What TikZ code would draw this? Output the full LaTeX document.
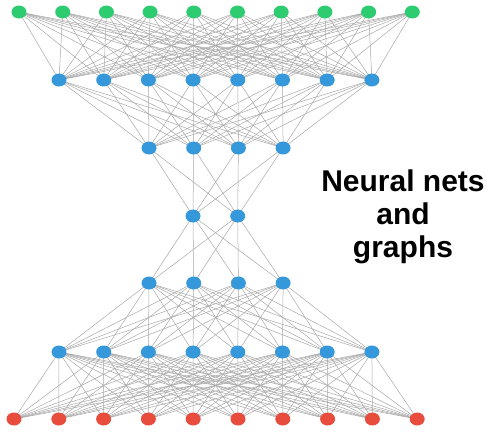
\documentclass[tikz,border=0pt]{standalone}
\usepackage{fontspec}
\setmainfont{Liberation Sans}
\usetikzlibrary{shapes.geometric}
\definecolor{cgreen}{HTML}{2ECC71}
\definecolor{cblue}{HTML}{3498DB}
\definecolor{cred}{HTML}{E74C3C}
\definecolor{cedge}{HTML}{A8A8A8}
\begin{document}
\begin{tikzpicture}[x=1pt,y=-1pt,
  neuron/.style={ellipse,minimum width=15pt,minimum height=13pt,inner sep=0pt,draw=none},
  gn/.style={neuron,fill=cgreen},
  bn/.style={neuron,fill=cblue},
  rn/.style={neuron,fill=cred},
  edge/.style={cedge,line width=0.5pt}]
\useasboundingbox (0,0) rectangle (494,432);
% layer coordinates
\foreach \i in {0,...,9} {\coordinate (g\i) at ({19+43.7*\i},12);}
\foreach \i in {0,...,7} {\coordinate (a\i) at ({59+44.7*\i},80);}
\foreach \i in {0,...,3} {\coordinate (b\i) at ({149+44.7*\i},148);}
\foreach \i in {0,1} {\coordinate (c\i) at ({193+44.7*\i},216);}
\foreach \i in {0,...,3} {\coordinate (d\i) at ({149+44.7*\i},283);}
\foreach \i in {0,...,7} {\coordinate (e\i) at ({59+44.7*\i},352);}
\foreach \i in {0,...,9} {\coordinate (r\i) at ({14+44.8*\i},419);}
% edges
\foreach \i in {0,...,9} {\foreach \j in {0,...,7} {\draw[edge] (g\i) -- (a\j); \draw[edge] (r\i) -- (e\j);}}
\foreach \i in {0,...,7} {\foreach \j in {0,...,3} {\draw[edge] (a\i) -- (b\j); \draw[edge] (e\i) -- (d\j);}}
\foreach \i in {0,...,3} {\foreach \j in {0,1} {\draw[edge] (b\i) -- (c\j); \draw[edge] (d\i) -- (c\j);}}
% nodes
\foreach \i in {0,...,9} {\node[gn] (G\i) at (g\i) {}; \node[rn] (R\i) at (r\i) {};}
\foreach \i in {0,...,7} {\node[bn] (A\i) at (a\i) {}; \node[bn] (E\i) at (e\i) {};}
\foreach \i in {0,...,3} {\node[bn] (B\i) at (b\i) {}; \node[bn] (D\i) at (d\i) {};}
\foreach \i in {0,1} {\node[bn] (C\i) at (c\i) {};}
\node[align=center,font=\fontsize{30}{33}\selectfont\bfseries,inner sep=0pt] (title) at (403,217) {Neural nets\\and\\graphs};
\end{tikzpicture}
\end{document}
